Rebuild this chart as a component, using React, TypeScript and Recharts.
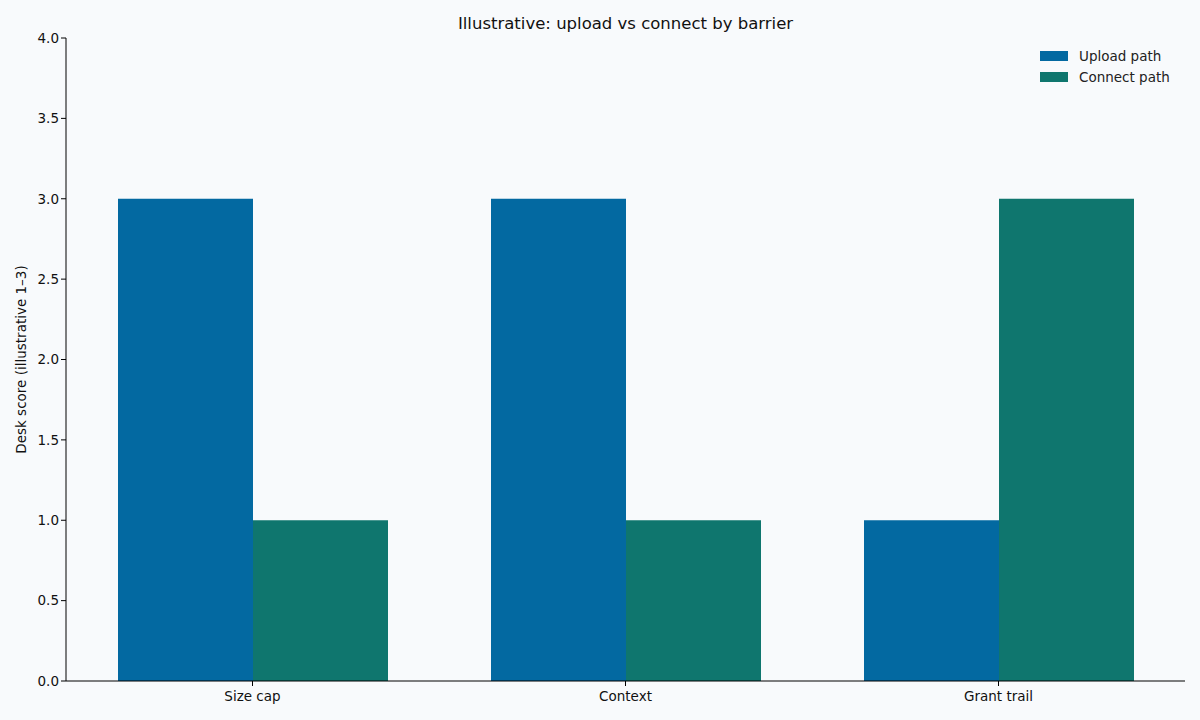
import React from 'react'
import { BarChart, Bar, XAxis, YAxis } from 'recharts'

const barriers = ['Size cap', 'Context', 'Grant trail']
const uploadPath = [3, 3, 1]
const connectPath = [1, 1, 3]
const yTicks = [0, 0.5, 1, 1.5, 2, 2.5, 3, 3.5, 4]

const UPLOAD = '#0369a1'
const CONNECT = '#0f766e'
const FONT = '"DejaVu Sans", sans-serif'

const data = barriers.map((b, i) => ({
  barrier: b,
  upload: uploadPath[i],
  connect: connectPath[i],
}))

const legendItems = [
  { label: 'Upload path', color: UPLOAD },
  { label: 'Connect path', color: CONNECT },
]

function LegendBox() {
  return (
    <div
      style={{
        position: 'absolute',
        top: 45,
        left: 1040,
        fontFamily: FONT,
        fontSize: 13.5,
        color: '#222',
      }}
    >
      {legendItems.map(it => (
        <div key={it.label} style={{ display: 'flex', alignItems: 'center', height: 21 }}>
          <span style={{ width: 28, height: 10, background: it.color, marginRight: 11 }} />
          <span>{it.label}</span>
        </div>
      ))}
    </div>
  )
}

export default function App() {
  return (
    <div style={{ width: 1200, height: 720, background: '#f8fafc', position: 'relative' }}>
      <style>{'body{margin:0;background:#f8fafc}'}</style>
      <div
        style={{
          position: 'absolute',
          top: 14,
          left: 66,
          width: 1119,
          textAlign: 'center',
          fontFamily: FONT,
          fontSize: 16.5,
          color: '#111',
        }}
      >
        Illustrative: upload vs connect by barrier
      </div>
      <BarChart
        width={1200}
        height={720}
        data={data}
        margin={{ top: 38, right: 15, bottom: 9, left: 0 }}
        barCategoryGap={52}
        barGap={0}
      >
        <XAxis
          dataKey="barrier"
          height={30}
          stroke="#000"
          tickLine={{ stroke: '#000' }}
          tickSize={5}
          tickMargin={5}
          tick={{ fill: '#111', fontSize: 13.5, fontFamily: FONT }}
        />
        <YAxis
          width={66}
          domain={[0, 4]}
          ticks={yTicks}
          tickFormatter={(v: number) => v.toFixed(1)}
          stroke="#000"
          tickSize={5}
          tick={{ fill: '#111', fontSize: 13.5, fontFamily: FONT }}
          label={{
            value: 'Desk score (illustrative 1–3)',
            angle: -90,
            position: 'insideLeft',
            offset: 21,
            style: { textAnchor: 'middle', fill: '#111', fontSize: 13.5, fontFamily: FONT },
          }}
        />
        <Bar dataKey="upload" name="Upload path" fill={UPLOAD} isAnimationActive={false} />
        <Bar dataKey="connect" name="Connect path" fill={CONNECT} isAnimationActive={false} />
      </BarChart>
      <LegendBox />
    </div>
  )
}
